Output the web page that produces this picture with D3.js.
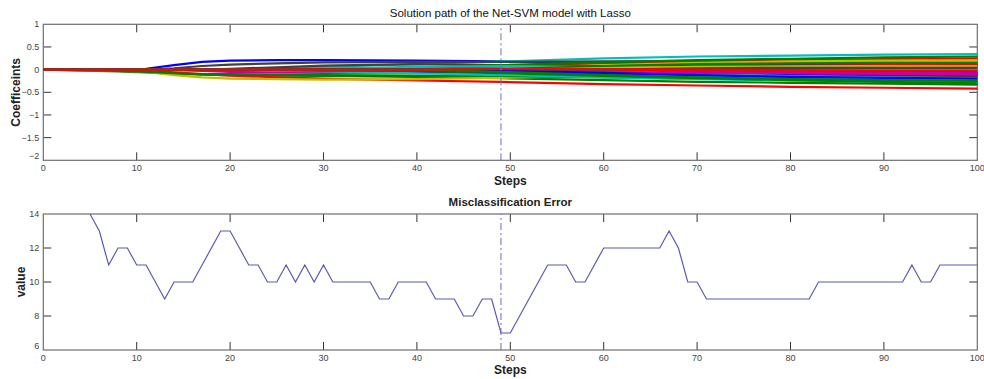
<!DOCTYPE html>
<html>
<head>
<meta charset="utf-8">
<script src="https://cdn.jsdelivr.net/npm/d3@7"></script>
<style>
  body { margin: 0; background: #fff; }
  text { font-family: "Liberation Sans", Arial, sans-serif; }
</style>
</head>
<body>
<div id="chart"></div>
<script>
"use strict";

const pathSteps = [0, 8, 11, 14, 17, 20, 25, 30, 40, 49, 60, 70, 80, 90, 100];

// coefficient paths (one row per coefficient), values at pathSteps
const coefPaths = [
  [0, 0, 0.02, 0.10, 0.17, 0.20, 0.21, 0.21, 0.20, 0.18, 0.16, 0.13, 0.11, 0.09, 0.07],
  [0, -0.04, -0.06, -0.09, -0.11, -0.12, -0.13, -0.14, -0.16, -0.19, -0.23, -0.27, -0.29, -0.31, -0.33],
  [0, 0, -0.02, -0.06, -0.10, -0.13, -0.17, -0.20, -0.24, -0.27, -0.32, -0.35, -0.38, -0.40, -0.42],
  [0, 0, 0, 0, 0, 0, 0.02, 0.06, 0.12, 0.18, 0.25, 0.29, 0.31, 0.33, 0.34],
  [0, 0, 0, -0.01, -0.03, -0.05, -0.06, -0.07, -0.06, -0.05, -0.07, -0.09, -0.11, -0.12, -0.14],
  [0, -0.02, -0.05, -0.12, -0.17, -0.20, -0.21, -0.22, -0.21, -0.18, -0.13, -0.09, -0.06, -0.04, -0.03],
  [0, 0, 0, 0.03, 0.08, 0.11, 0.14, 0.16, 0.17, 0.17, 0.18, 0.19, 0.20, 0.21, 0.22],
  [0, 0, 0, 0, 0, 0, 0, -0.02, -0.05, -0.06, -0.04, -0.02, -0.03, -0.05, -0.06],
  [0, -0.03, -0.05, -0.08, -0.10, -0.10, -0.11, -0.12, -0.13, -0.14, -0.17, -0.20, -0.22, -0.24, -0.26],
  [0, 0, 0, 0, 0, 0, 0, 0, 0.03, 0.08, 0.14, 0.18, 0.21, 0.23, 0.25],
  [0, 0, 0, 0, 0, 0, -0.02, -0.04, -0.08, -0.12, -0.17, -0.21, -0.24, -0.26, -0.28],
  [0, 0, 0, 0, 0, 0, 0, 0.01, 0.04, 0.07, 0.02, -0.02, -0.05, -0.07, -0.08],
  [0, 0, 0, 0, 0, 0, 0, 0, 0, 0.04, 0.10, 0.15, 0.18, 0.20, 0.21],
  [0, 0, 0, 0, 0, 0.02, 0.05, 0.09, 0.12, 0.10, 0.08, 0.07, 0.06, 0.06, 0.05],
  [0, 0, 0, 0, 0, 0, 0, 0, 0.02, 0.05, 0.02, -0.04, -0.08, -0.10, -0.11],
  [0, 0, 0, 0, 0, 0, 0, 0, -0.03, -0.08, -0.14, -0.19, -0.23, -0.27, -0.30],
  [0, 0, 0, 0, 0, 0, 0, 0, 0, 0.02, 0.06, 0.10, 0.13, 0.15, 0.16],
  [0, 0, 0, 0, 0, 0, 0, 0, 0, -0.03, -0.10, -0.15, -0.19, -0.22, -0.24],
  [0, 0, 0, 0, 0, 0, -0.01, -0.03, -0.02, 0.02, -0.03, -0.08, -0.12, -0.15, -0.17],
  [0, 0, 0, 0, 0, 0, 0, 0, 0, 0, 0.07, 0.13, 0.16, 0.18, 0.19],
  [0, 0, 0, 0, 0, 0, 0, 0, -0.02, -0.06, -0.09, -0.11, -0.12, -0.13, -0.13],
  [0, 0, 0, 0, 0, 0, 0, 0, 0, 0.06, 0.08, 0.09, 0.10, 0.11, 0.12],
  [0, 0, 0, 0, 0, 0, 0, 0.01, 0.05, 0.10, 0.16, 0.21, 0.24, 0.27, 0.29],
  [0, 0, 0, 0, 0, 0, 0, 0, 0, 0, 0.04, 0.08, 0.09, 0.10, 0.10],
  [0, 0, 0, 0, 0, 0, 0, 0.02, 0.06, 0.08, 0.06, 0.03, 0.02, 0.01, 0.00],
  [0, 0, 0, 0, 0, 0, 0, 0, 0, -0.02, -0.06, -0.10, -0.13, -0.15, -0.16],
  [0, 0, 0, 0, 0, 0, 0, 0, 0, 0.03, 0.05, 0.04, 0.03, 0.03, 0.02],
  [0, 0, 0, 0, 0, 0, 0, 0, 0, -0.04, -0.08, -0.10, -0.12, -0.14, -0.15],
  [0, 0, 0, 0, 0, 0, 0, 0, 0, 0, -0.06, -0.09, -0.10, -0.10, -0.10],
  [0, 0, 0, 0, 0, 0, 0, 0, 0, 0.01, 0.08, 0.12, 0.14, 0.15, 0.15],
  [0, 0, 0, 0, 0, 0, 0, 0, 0, 0, 0, -0.04, -0.07, -0.09, -0.11],
  [0, 0, 0, 0, 0, 0, 0, 0, 0, 0, -0.04, -0.10, -0.14, -0.17, -0.19],
  [0, 0, 0, 0, 0, 0, 0, 0, 0, 0, -0.05, -0.08, -0.08, -0.09, -0.09],
  [0, 0, 0, 0, 0, 0, 0, 0, 0, 0, 0.03, 0.06, 0.07, 0.08, 0.08],
  [0, 0, 0, 0, 0, 0, 0, 0, 0, 0, 0, 0.03, 0.04, 0.04, 0.04],
  [0, 0, 0, 0, 0, 0, 0, 0, 0, -0.03, -0.07, -0.12, -0.16, -0.18, -0.20],
  [0, 0, 0, 0, 0, 0, 0, 0, 0, -0.05, -0.12, -0.17, -0.21, -0.23, -0.25],
  [0, 0, 0, 0, 0, 0, 0, 0, 0, 0.02, 0.01, 0.00, -0.01, -0.02, -0.02]
];

// MATLAB default line colour order
const lineColors = ["#0000ff", "#008000", "#ff0000", "#00bfbf", "#bf00bf", "#bfbf00", "#404040"];

// misclassification error
const errSteps = [5, 6, 7, 8, 9, 10, 11, 12, 13, 14, 15, 16, 17, 18, 19, 20, 21, 22, 23, 24, 25,
  26, 27, 28, 29, 30, 31, 32, 33, 34, 35, 36, 37, 38, 39, 40, 41, 42, 43, 44, 45, 46, 47, 48, 49, 50,
  51, 52, 53, 54, 55, 56, 57, 58, 59, 60, 61, 62, 63, 64, 65, 66, 67, 68, 69, 70, 71, 72, 73, 74, 75,
  76, 77, 78, 79, 80, 81, 82, 83, 84, 85, 86, 87, 88, 89, 90, 91, 92, 93, 94, 95, 96, 97, 98, 99, 100];
const errValues = [14, 13, 11, 12, 12, 11, 11, 10, 9, 10, 10, 10, 11, 12, 13, 13, 12, 11, 11, 10, 10,
  11, 10, 11, 10, 11, 10, 10, 10, 10, 10, 9, 9, 10, 10, 10, 10, 9, 9, 9, 8, 8, 9, 9, 7, 7,
  8, 9, 10, 11, 11, 11, 10, 10, 11, 12, 12, 12, 12, 12, 12, 12, 13, 12, 10, 10, 9, 9, 9, 9, 9,
  9, 9, 9, 9, 9, 9, 9, 10, 10, 10, 10, 10, 10, 10, 10, 10, 10, 11, 10, 10, 11, 11, 11, 11, 11];

const bestStep = 49;

const topTicks = [-2, -1.5, -1, -0.5, 0, 0.5, 1];
const bottomTicks = [6, 8, 10, 12, 14];
const stepTicks = d3.range(0, 101, 10);

const width = 984;
const height = 379;
const left = 43.3, right = 977.3;

const svg = d3.select("#chart").append("svg")
  .attr("width", width)
  .attr("height", height);

const x = d3.scaleLinear().domain([0, 100]).range([left, right]);
const yTop = d3.scaleLinear().domain([-2, 1]).range([160.3, 24.3]);
const yBot = d3.scaleLinear().domain([6, 14]).range([350, 214]);

const boxColor = "#6e6e6e";
const tickLen = 8;

function drawFrame(y, yTicks, yFormat) {
  const g = svg.append("g");
  const [y0, y1] = y.range();
  // inward ticks on all four sides
  stepTicks.forEach(t => {
    if (t === 0 || t === 100) return;
    g.append("line").attr("x1", x(t)).attr("x2", x(t)).attr("y1", y0).attr("y2", y0 - tickLen)
      .attr("stroke", "#333").attr("stroke-width", 1);
    g.append("line").attr("x1", x(t)).attr("x2", x(t)).attr("y1", y1).attr("y2", y1 + tickLen)
      .attr("stroke", "#333").attr("stroke-width", 1);
  });
  yTicks.forEach(t => {
    if (t === y.domain()[0] || t === y.domain()[1]) return;
    g.append("line").attr("x1", left).attr("x2", left + tickLen).attr("y1", y(t)).attr("y2", y(t))
      .attr("stroke", "#333").attr("stroke-width", 1);
    g.append("line").attr("x1", right).attr("x2", right - tickLen).attr("y1", y(t)).attr("y2", y(t))
      .attr("stroke", "#333").attr("stroke-width", 1);
  });
  g.append("rect")
    .attr("x", left).attr("y", y1)
    .attr("width", right - left).attr("height", y0 - y1)
    .attr("fill", "none").attr("stroke", boxColor).attr("stroke-width", 1.2);

  // tick labels
  g.selectAll(".xl").data(stepTicks).enter().append("text")
    .attr("x", d => x(d)).attr("y", y0 + 11)
    .attr("text-anchor", "middle")
    .attr("font-size", 9).attr("fill", "#444")
    .text(d => d);
  g.selectAll(".yl").data(yTicks).enter().append("text")
    .attr("x", left - 4).attr("y", d => y(d) + (d === y.domain()[0] ? -1 : 3))
    .attr("text-anchor", "end")
    .attr("font-size", 9).attr("fill", "#444")
    .text(yFormat);
  return g;
}

// ---- top: solution path ----
drawFrame(yTop, topTicks, d => d3.format("")(d));

const coefLine = d3.line()
  .x((d, i) => x(pathSteps[i]))
  .y(d => yTop(d));

svg.append("g")
  .selectAll("path")
  .data(coefPaths)
  .enter()
  .append("path")
  .attr("d", coefLine)
  .attr("fill", "none")
  .attr("stroke", (d, i) => lineColors[i % lineColors.length])
  .attr("stroke-width", 2.2);

svg.append("text")
  .attr("x", (left + right) / 2).attr("y", 17)
  .attr("text-anchor", "middle").attr("font-size", 11.5).attr("fill", "#111")
  .text("Solution path of the Net-SVM model with Lasso");
svg.append("text")
  .attr("x", (left + right) / 2).attr("y", 185)
  .attr("text-anchor", "middle").attr("font-size", 12).attr("font-weight", "bold").attr("fill", "#222")
  .text("Steps");
svg.append("text")
  .attr("transform", `translate(20, ${(yTop.range()[0] + yTop.range()[1]) / 2}) rotate(-90)`)
  .attr("text-anchor", "middle").attr("font-size", 12).attr("font-weight", "bold").attr("fill", "#222")
  .text("Coefficeints");

// ---- bottom: misclassification error ----
drawFrame(yBot, bottomTicks, d => d);

const errLine = d3.line()
  .x((d, i) => x(errSteps[i]))
  .y(d => yBot(d));

svg.append("path")
  .datum(errValues)
  .attr("d", errLine)
  .attr("fill", "none")
  .attr("stroke", "#5a5ab4")
  .attr("stroke-width", 1.2);

svg.append("text")
  .attr("x", (left + right) / 2).attr("y", 206)
  .attr("text-anchor", "middle").attr("font-size", 11.5).attr("font-weight", "bold").attr("fill", "#222")
  .text("Misclassification Error");
svg.append("text")
  .attr("x", (left + right) / 2).attr("y", 374)
  .attr("text-anchor", "middle").attr("font-size", 12).attr("font-weight", "bold").attr("fill", "#222")
  .text("Steps");
svg.append("text")
  .attr("transform", `translate(25, ${(yBot.range()[0] + yBot.range()[1]) / 2}) rotate(-90)`)
  .attr("text-anchor", "middle").attr("font-size", 12).attr("font-weight", "bold").attr("fill", "#222")
  .text("value");

// ---- selected step marker on both panels ----
[yTop, yBot].forEach(y => {
  svg.append("line")
    .attr("x1", x(bestStep)).attr("x2", x(bestStep))
    .attr("y1", y.range()[0]).attr("y2", y.range()[1])
    .attr("stroke", "#6b6bd0").attr("stroke-width", 1)
    .attr("stroke-dasharray", "7,3,2,3");
});
</script>
</body>
</html>
